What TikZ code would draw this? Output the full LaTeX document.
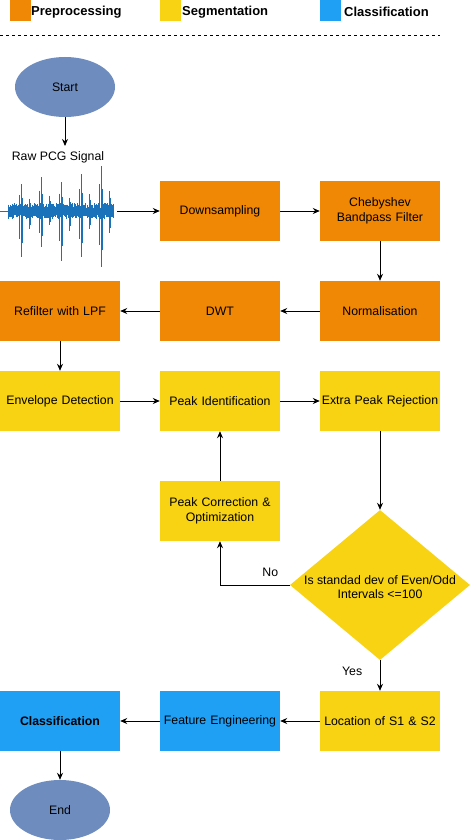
\documentclass[tikz,border=0pt]{standalone}
\usepackage{fontspec}
\setmainfont{Liberation Sans}
\usetikzlibrary{arrows.meta,shapes.geometric}
\definecolor{orng}{HTML}{F08705}
\definecolor{yllw}{HTML}{F7D314}
\definecolor{blu}{HTML}{1FA0F5}
\definecolor{ell}{HTML}{6E8DBE}
\definecolor{sigc}{HTML}{1A72BB}
\tikzset{
  box/.style={rectangle,minimum width=120pt,minimum height=60pt,inner sep=0pt,align=center,text width=119pt,font=\fontsize{12.3}{14.5}\selectfont},
  pre/.style={box,fill=orng},
  seg/.style={box,fill=yllw},
  cls/.style={box,fill=blu},
  term/.style={ellipse,fill=ell,minimum width=100pt,minimum height=60pt,inner sep=0pt,font=\fontsize{12.3}{14.5}\selectfont},
  arr/.style={-{Stealth[length=7pt,width=6pt]},line width=0.9pt},
  sig/.style={sigc,line width=0.6pt},
  lbl/.style={font=\fontsize{12.3}{14.5}\selectfont},
  leg/.style={font=\bfseries\fontsize{13}{15}\selectfont,anchor=west,inner sep=0pt}
}
\begin{document}
\begin{tikzpicture}[x=1pt,y=-1pt]
\useasboundingbox[fill=white] (0,0) rectangle (471,840);
% legend
\fill[orng] (10,0) rectangle (31,21);
\node[leg] (lp) at (31,12) {Preprocessing};
\fill[yllw] (160,0) rectangle (181,21);
\node[leg] (ls) at (182,12) {Segmentation};
\fill[blu] (320,0) rectangle (341,21);
\node[leg] (lc) at (344,12) {Classification};
\draw[dash pattern=on 3pt off 3pt,line width=0.7pt] (0,35) -- (440,35);
% start
\node[term] (start) at (65,87) {Start};
\node[lbl] (raw) at (58,157) {Raw PCG Signal};
\draw[arr] (start.south) -- (65,146);
% signal
\pgfmathsetseed{11}
\draw[sig] (0,211) -- (8,211);
\foreach \i in {0,...,210}{
  \pgfmathsetmacro\xx{8+\i*0.5}
  \pgfmathsetmacro\h{3+5*rnd}
  \pgfmathsetmacro\g{3+5*rnd}
  \draw[sig] (\xx,211-\h) -- (\xx,211+\g);
}
\foreach \c/\up/\dn in {21/27/46,41/34/36,61/29/50,81/37/46,101/45/56}{
  \draw[sig,line width=0.9pt] (\c,211-\up) -- (\c,211+\dn);
  \draw[sig] (\c-1.5,211-0.6*\up) -- (\c-1.5,211+0.6*\dn);
  \draw[sig] (\c+1.5,211-0.5*\up) -- (\c+1.5,211+0.7*\dn);
  \draw[sig] (\c+8,211-0.45*\up) -- (\c+8,211+0.4*\dn);
  \draw[sig] (\c+9.5,211-0.3*\up) -- (\c+9.5,211+0.3*\dn);
}
\coordinate (sigR) at (117,211);
% row 1
\node[pre] (down) at (220,211) {Downsampling};
\node[pre] (cheb) at (380,211) {Chebyshev\\Bandpass Filter};
% row 2
\node[pre] (refil) at (60,311) {Refilter with LPF};
\node[pre] (dwt) at (220,311) {DWT};
\node[pre] (norm) at (380,311) {Normalisation};
% row 3
\node[seg] (env) at (60,401) {Envelope Detection};
\node[seg] (peak) at (220,401) {Peak Identification};
\node[seg] (extra) at (380,401) {Extra Peak Rejection};
\node[seg] (corr) at (220,511) {Peak Correction \&\\Optimization};
\node[diamond,fill=yllw,minimum width=180pt,minimum height=150pt,inner sep=0pt] (dec) at (380,585) {};
\node[lbl,align=center] (dect) at (380,587) {Is standad dev of Even/Odd\\Intervals <=100};
% bottom row
\node[cls,font=\bfseries\fontsize{12.3}{14.5}\selectfont] (cls) at (60,721) {Classification};
\node[cls] (feat) at (220,721) {Feature Engineering};
\node[seg] (loc) at (380,721) {Location of S1 \& S2};
\node[term] (end) at (60,810) {End};
% connectors
\draw[arr] (sigR) -- (down.west);
\draw[arr] (down.east) -- (cheb.west);
\draw[arr] (cheb.south) -- (norm.north);
\draw[arr] (norm.west) -- (dwt.east);
\draw[arr] (dwt.west) -- (refil.east);
\draw[arr] (refil.south) -- (env.north);
\draw[arr] (env.east) -- (peak.west);
\draw[arr] (peak.east) -- (extra.west);
\draw[arr] (extra.south) -- (dec.north);
\draw[arr] (dec.west) -| node[lbl,pos=0.14,above=5pt] (no) {No} (corr.south);
\draw[arr] (corr.north) -- (peak.south);
\draw[arr] (dec.south) -- node[lbl,left=14pt,pos=0.35] (yes) {Yes} (loc.north);
\draw[arr] (loc.west) -- (feat.east);
\draw[arr] (feat.west) -- (cls.east);
\draw[arr] (cls.south) -- (end.north);
\end{tikzpicture}
\end{document}
